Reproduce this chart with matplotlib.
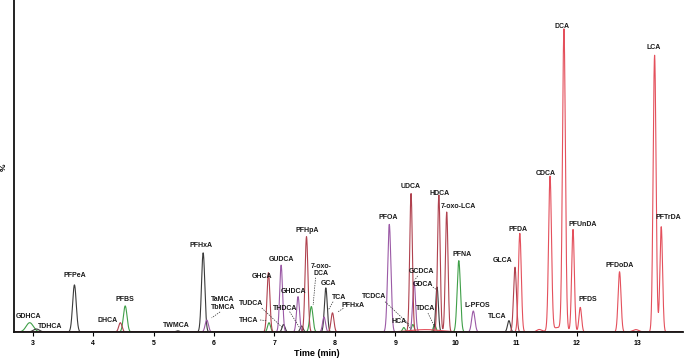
import numpy as np
import matplotlib
matplotlib.use("Agg")
import matplotlib.pyplot as plt

plt.rcParams['font.family'] = ['Liberation Sans', 'DejaVu Sans']

# ---- peak data: retention time (min), relative height (% of DCA), width (sigma, min)
black_rt = [3.06, 3.69, 5.40, 5.82, 7.15, 7.45, 7.85, 9.69, 10.88]
black_h = [1.0, 15.7, 0.4, 26.4, 2.5, 2.0, 14.7, 15.0, 3.8]
black_w = [0.05, 0.03, 0.03, 0.027, 0.024, 0.024, 0.024, 0.022, 0.024]

green_rt = [2.95, 4.53, 6.91, 7.61, 9.14, 9.29, 9.65, 10.05]
green_h = [3.1, 8.7, 3.1, 8.5, 1.5, 2.5, 2.5, 23.8]
green_w = [0.06, 0.03, 0.024, 0.027, 0.022, 0.022, 0.022, 0.027]

purple_rt = [5.88, 7.11, 7.39, 7.82, 8.90, 9.31, 10.29]
purple_h = [4.0, 22.3, 11.8, 5.0, 35.9, 16.8, 7.0]
purple_w = [0.027, 0.024, 0.024, 0.024, 0.027, 0.024, 0.027]

brown_rt = [4.45, 6.90, 7.53, 7.96, 9.26, 9.72, 9.85, 10.98]
brown_h = [3.1, 19.8, 31.8, 6.4, 46.2, 45.7, 40.0, 21.6]
brown_w = [0.027, 0.024, 0.024, 0.024, 0.022, 0.022, 0.022, 0.024]

red_rt = [9.5, 11.06, 11.38, 11.56, 11.70, 11.79, 11.94, 12.06, 12.71, 12.98, 13.29, 13.40]
red_h = [0.8, 32.9, 0.8, 51.2, 1.5, 100.0, 34.0, 8.2, 20.1, 0.8, 92.3, 35.1]
red_w = [0.25, 0.024, 0.04, 0.024, 0.12, 0.024, 0.022, 0.022, 0.024, 0.05, 0.024, 0.022]

tick_values = [3, 4, 5, 6, 7, 8, 9, 10, 11, 12, 13]

# labels: text, text position (time, %)
label_text = ["GDHCA", "TDHCA", "PFPeA", "DHCA", "PFBS", "TWMCA", "PFHxA",
              "TaMCA\nTbMCA", "GHCA", "GUDCA", "TUDCA", "THCA", "GHDCA", "THDCA",
              "PFHpA", "7-oxo-\nDCA", "GCA", "TCA", "PFHxA", "TCDCA", "PFOA",
              "HCA", "UDCA", "GCDCA", "GDCA", "TDCA", "HDCA", "7-oxo-LCA",
              "PFNA", "L-PFOS", "TLCA", "GLCA", "PFDA", "CDCA", "DCA",
              "PFUnDA", "PFDS", "PFDoDA", "LCA", "PFTrDA"]
label_t = [2.93, 3.28, 3.70, 4.24, 4.52, 5.38, 5.79,
           6.15, 6.79, 7.12, 6.61, 6.58, 7.32, 7.17,
           7.54, 7.77, 7.89, 8.07, 8.30, 8.64, 8.88,
           9.06, 9.25, 9.43, 9.45, 9.50, 9.74, 10.05,
           10.10, 10.35, 10.68, 10.78, 11.03, 11.49, 11.75,
           12.10, 12.18, 12.71, 13.27, 13.51]
label_v = [5.3, 2.0, 18.7, 3.7, 11.0, 2.3, 28.8,
           9.5, 18.4, 24.2, 9.6, 4.0, 13.4, 7.7,
           34.0, 20.7, 16.2, 11.4, 8.8, 12.0, 38.2,
           3.4, 48.4, 20.3, 15.9, 8.0, 46.3, 41.7,
           25.7, 8.7, 5.3, 23.7, 34.3, 53.0, 102.0,
           36.0, 11.0, 22.3, 94.7, 38.3]

# leader lines (start time, start %, end time, end %)
lead_t0 = [6.10, 6.79, 6.76, 7.25, 7.68, 7.97, 8.14, 8.83, 9.19, 9.37, 9.62, 9.54]
lead_v0 = [6.7, 8.0, 4.0, 6.8, 18.1, 10.1, 7.9, 10.1, 3.0, 18.7, 15.0, 6.3]
lead_t1 = [5.96, 7.14, 6.87, 7.42, 7.64, 7.89, 8.04, 9.24, 9.24, 9.32, 9.69, 9.65]
lead_v1 = [4.7, 1.3, 3.8, 1.3, 9.0, 7.3, 6.6, 2.3, 1.3, 17.3, 14.0, 1.7]

W, H = 684, 361
fig = plt.figure(figsize=(W / 100, H / 100), dpi=100)
ax = fig.add_axes([14 / W, 29 / H, (683 - 14) / W, 332 / H])

t = np.linspace(2.69, 13.76, 6000)


def trace(rts, hs, ws):
    y = np.zeros_like(t)
    for r, h, w in zip(rts, hs, ws):
        y += h * np.exp(-0.5 * ((t - r) / w) ** 2)
    return y


series = [
    (green_rt, green_h, green_w, "#3f9f48"),
    (black_rt, black_h, black_w, "#3a3a3a"),
    (purple_rt, purple_h, purple_w, "#9b5aa6"),
    (brown_rt, brown_h, brown_w, "#b0424f"),
    (red_rt, red_h, red_w, "#e4505c"),
]
for rts, hs, ws, c in series:
    ax.plot(t, trace(rts, hs, ws), color=c, lw=0.8)

for txt, x, y in zip(label_text, label_t, label_v):
    ax.text(x, y, txt, fontsize=5, fontweight='bold', ha='center', va='center',
            color='#1a1a1a', linespacing=1.1)

for x0, y0, x1, y1 in zip(lead_t0, lead_v0, lead_t1, lead_v1):
    ax.plot([x0, x1], [y0, y1], color='#333333', lw=0.5, ls=(0, (2, 1.5)))

ax.set_xlim(2.69, 13.76)
ax.set_ylim(0, 110.7)
ax.set_xticks(tick_values)
ax.set_xticklabels([str(v) for v in tick_values], fontsize=5, fontweight='bold')
ax.set_yticks([])
ax.tick_params(axis='x', direction='out', length=3, width=0.8, pad=3)
for s in ['top', 'right']:
    ax.spines[s].set_visible(False)
for s in ['left', 'bottom']:
    ax.spines[s].set_linewidth(1.3)
    ax.spines[s].set_color('#111111')

fig.text(317 / W, 1 - 354 / H, "Time (min)", fontsize=6.5, fontweight='bold',
         ha='center', va='center')
fig.text(4 / W, 1 - 167 / H, "%", fontsize=6, fontweight='bold',
         ha='center', va='center', rotation=90)

fig.savefig("out.png", dpi=100)
